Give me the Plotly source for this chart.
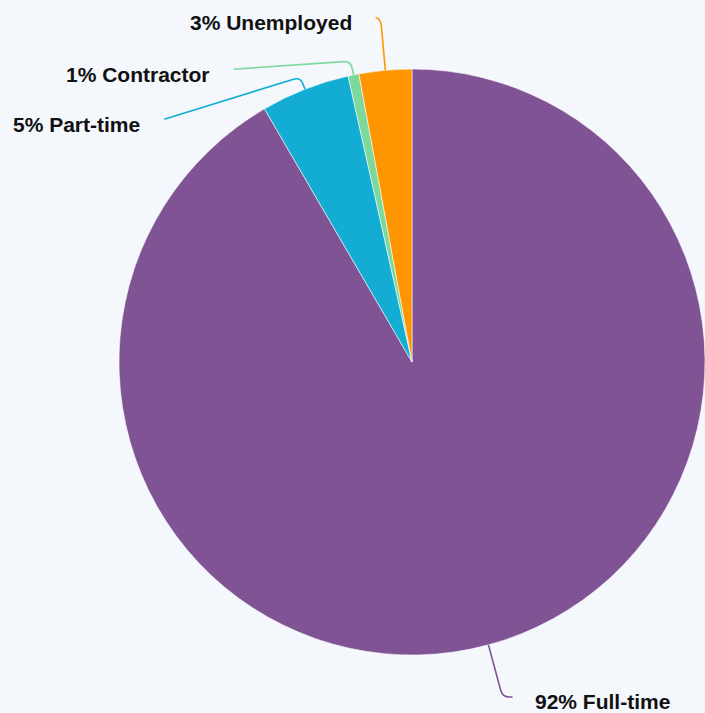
import math
import plotly.graph_objects as go

# Employment status breakdown (percent of respondents)
categories = ["Full-time", "Part-time", "Contractor", "Unemployed"]
shares = [91.6, 4.9, 0.6, 2.9]
colors = ["#7F5394", "#13ADD4", "#7DD89B", "#FF9500"]

# Leader-line layout per label: radial extension past the rim, then
# horizontal/vertical run to where the label sits.
leader_ext = [54, 13, 14, 52]
leader_run = [(10, 0), (-136, 42), (-117, 8), (-5, -1)]

W, H = 705, 713
BG = "#F4F7FC"

# Pie placement in pixels
dom_x = (119 / W, 1.0)
dom_y = (0.0, 702 / H)
px_w = (dom_x[1] - dom_x[0]) * W
px_h = (dom_y[1] - dom_y[0]) * H
r = min(px_w, px_h) / 2
cx = (dom_x[0] + dom_x[1]) / 2 * W
cy = H - (dom_y[0] + dom_y[1]) / 2 * H

fig = go.Figure()
fig.add_trace(go.Pie(
    labels=categories,
    values=shares,
    sort=False,
    direction="clockwise",
    rotation=0,
    textinfo="none",
    hoverinfo="label+percent",
    marker=dict(colors=colors, line=dict(color="rgba(255,255,255,0.55)", width=1)),
    domain=dict(x=list(dom_x), y=list(dom_y)),
    showlegend=False,
))

total = sum(shares)
shapes = []
annotations = []
cum = 0.0
corner = 7
for name, v, col, ext, (dx, dy) in zip(categories, shares, colors, leader_ext, leader_run):
    mid = (cum + v / 2) / total * 2 * math.pi
    cum += v
    ux, uy = math.sin(mid), -math.cos(mid)
    sx, sy = cx + r * ux, cy + r * uy
    ex, ey = cx + (r + ext) * ux, cy + (r + ext) * uy
    tx, ty = ex + dx, ey + dy
    # rounded elbow between radial piece and the run to the label
    ax, ay = ex - corner * ux, ey - corner * uy
    L = math.hypot(dx, dy) or 1.0
    c = min(corner, L)
    bx, by = ex + c * dx / L, ey + c * dy / L
    path = (f"M {sx:.2f},{sy:.2f} L {ax:.2f},{ay:.2f} "
            f"Q {ex:.2f},{ey:.2f} {bx:.2f},{by:.2f} L {tx:.2f},{ty:.2f}")
    shapes.append(dict(type="path", path=path, xref="x", yref="y",
                       line=dict(color=col, width=1.6), layer="above"))
    pct = round(v / total * 100)
    right_side = dx > 0
    annotations.append(dict(
        x=tx + (20 if right_side else -22), y=ty + 5, xref="x", yref="y",
        text=f"<b>{pct}% {name}</b>", showarrow=False,
        xanchor="left" if right_side else "right", yanchor="middle",
        font=dict(family="Liberation Sans, Arial, sans-serif", size=21, color="#111111"),
    ))

fig.update_layout(
    width=W, height=H,
    margin=dict(l=0, r=0, t=0, b=0),
    paper_bgcolor=BG, plot_bgcolor="rgba(0,0,0,0)",
    xaxis=dict(range=[0, W], visible=False, fixedrange=True),
    yaxis=dict(range=[H, 0], visible=False, fixedrange=True),
    shapes=shapes,
    annotations=annotations,
)

fig.write_html("out.html")
